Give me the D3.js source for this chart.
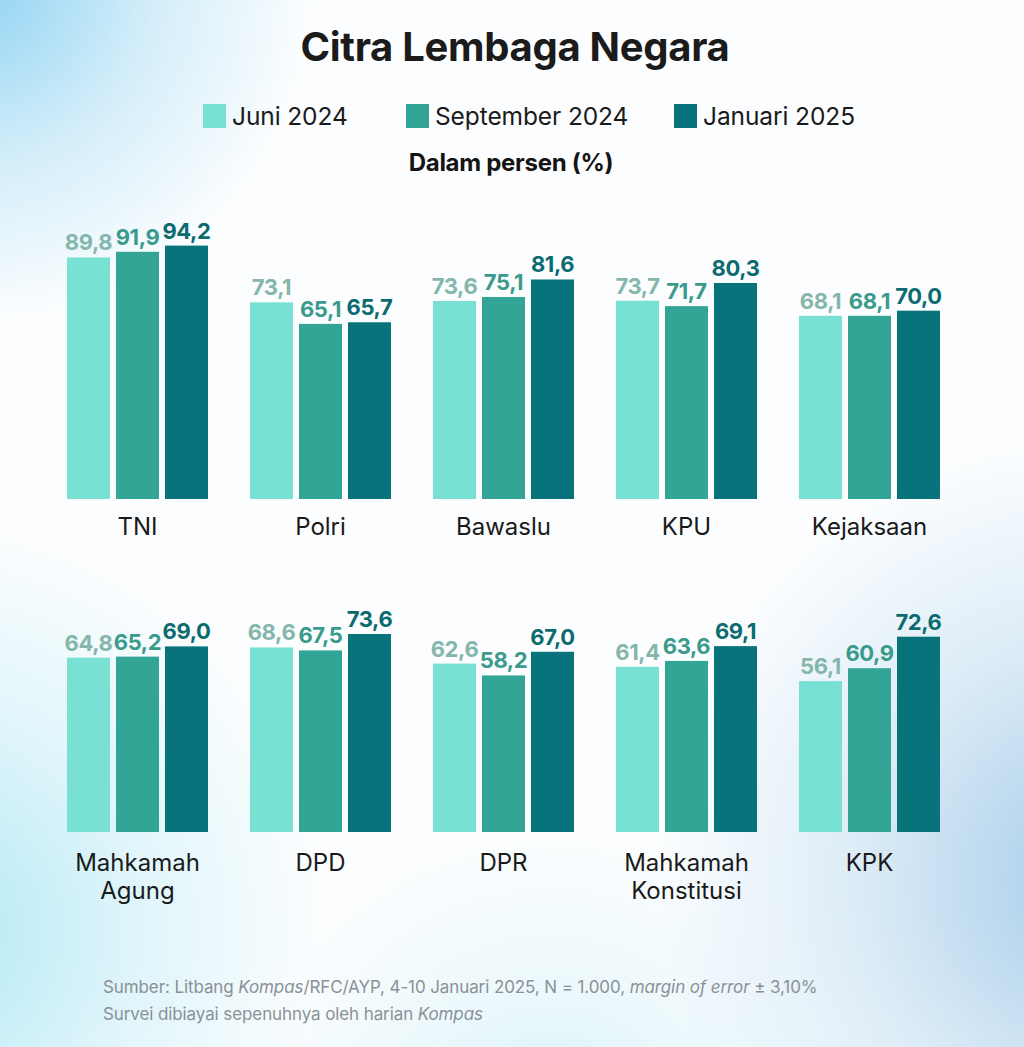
<!DOCTYPE html>
<html>
<head>
<meta charset="utf-8">
<script src="https://cdn.jsdelivr.net/npm/d3@7"></script>
<style>
  html, body { margin: 0; padding: 0; background: #ffffff; }
  svg { display: block; }
</style>
</head>
<body>
<svg id="chart" width="1024" height="1047"></svg>
<script>
// ---- data ----
const title = "Citra Lembaga Negara";
const subtitle = "Dalam persen (%)";
const seriesNames = ["Juni 2024", "September 2024", "Januari 2025"];
const categoriesRow1 = ["TNI", "Polri", "Bawaslu", "KPU", "Kejaksaan"];
const categoriesRow2 = ["Mahkamah Agung", "DPD", "DPR", "Mahkamah Konstitusi", "KPK"];
const juni2024 = [89.8, 73.1, 73.6, 73.7, 68.1, 64.8, 68.6, 62.6, 61.4, 56.1];
const september2024 = [91.9, 65.1, 75.1, 71.7, 68.1, 65.2, 67.5, 58.2, 63.6, 60.9];
const januari2025 = [94.2, 65.7, 81.6, 80.3, 70.0, 69.0, 73.6, 67.0, 69.1, 72.6];
const categoryLines = {
  "Mahkamah Agung": ["Mahkamah", "Agung"],
  "Mahkamah Konstitusi": ["Mahkamah", "Konstitusi"]
};
const sourceNote = [
  [["Sumber: Litbang ", false], ["Kompas", true], ["/RFC/AYP, 4-10 Januari 2025, N = 1.000, ", false], ["margin of error", true], [" ± 3,10%", false]],
  [["Survei dibiayai sepenuhnya oleh harian ", false], ["Kompas", true]]
];

// ---- styles ----
const barColors = ["#79e0d4", "#33a596", "#08737a"];
const labelColors = ["#84b6ab", "#3a9a8c", "#0b6b6e"];
const FONT = "Inter, 'Noto Sans', sans-serif";

const svg = d3.select("#chart");
const W = 1024, H = 1047;

// ---- background ----
const defs = svg.append("defs");
function radial(id, cx, cy, r, color, op) {
  const g = defs.append("radialGradient").attr("id", id)
    .attr("gradientUnits", "userSpaceOnUse")
    .attr("cx", cx).attr("cy", cy).attr("r", r);
  g.append("stop").attr("offset", 0).attr("stop-color", color).attr("stop-opacity", op);
  g.append("stop").attr("offset", 0.55).attr("stop-color", color).attr("stop-opacity", op * 0.35);
  g.append("stop").attr("offset", 1).attr("stop-color", color).attr("stop-opacity", 0);
}
radial("bgTL", -30, -20, 340, "#8dd2f2", 1);
radial("bgBL", -80, 930, 400, "#a9e6f4", 0.95);
radial("bgBR", 1100, 880, 440, "#a3cbe9", 1);
radial("bgBM", 550, 1160, 320, "#c5ecf6", 0.75);
svg.append("rect").attr("width", W).attr("height", H).attr("fill", "#fbfdfe");
["bgTL", "bgBL", "bgBR", "bgBM"].forEach(id =>
  svg.append("rect").attr("width", W).attr("height", H).attr("fill", `url(#${id})`));

// ---- title & subtitle ----
svg.append("text").attr("x", 515).attr("y", 61)
  .attr("text-anchor", "middle").attr("font-family", FONT)
  .attr("font-weight", 700).attr("font-size", 40).attr("letter-spacing", -0.3)
  .attr("fill", "#1b1b1b").text(title);

svg.append("text").attr("x", 511).attr("y", 171)
  .attr("text-anchor", "middle").attr("font-family", FONT)
  .attr("font-weight", 700).attr("font-size", 24).attr("letter-spacing", -0.3)
  .attr("fill", "#141414").text(subtitle);

// ---- legend ----
const legendX = [203, 406, 674];
const legend = svg.append("g");
seriesNames.forEach((name, i) => {
  const g = legend.append("g").attr("transform", `translate(${legendX[i]},104)`);
  g.append("rect").attr("width", 23).attr("height", 24).attr("fill", barColors[i]);
  g.append("text").attr("x", 29).attr("y", 20.5)
    .attr("font-family", FONT).attr("font-size", 24.5).attr("letter-spacing", -0.1)
    .attr("fill", "#1a1a1a").text(name);
});

// ---- bar rows ----
const rows = [
  { cats: categoriesRow1, offset: 0, base: 499, labelY: 535 },
  { cats: categoriesRow2, offset: 5, base: 832, labelY: 871 }
];

rows.forEach(row => {
  const x0 = d3.scaleBand().domain(row.cats).range([67, 940]).paddingInner(42 / 183).paddingOuter(0);
  const x1 = d3.scaleBand().domain(seriesNames).range([0, x0.bandwidth()]).paddingInner(6 / 49);
  const y = d3.scaleLinear().domain([0, 100]).range([row.base, row.base - 269]);

  const data = row.cats.map((c, i) => ({
    cat: c,
    vals: [juni2024[row.offset + i], september2024[row.offset + i], januari2025[row.offset + i]]
  }));

  const groups = svg.append("g").selectAll("g").data(data).join("g")
    .attr("transform", d => `translate(${x0(d.cat)},0)`);

  groups.selectAll("rect").data(d => d.vals.map((v, j) => ({ v, s: seriesNames[j], j })))
    .join("rect")
    .attr("x", d => x1(d.s)).attr("width", x1.bandwidth())
    .attr("y", d => y(d.v)).attr("height", d => y(0) - y(d.v))
    .attr("fill", d => barColors[d.j]);

  groups.selectAll("text.val").data(d => d.vals.map((v, j) => ({ v, s: seriesNames[j], j })))
    .join("text").attr("class", "val")
    .attr("x", d => x1(d.s) + x1.bandwidth() / 2)
    .attr("y", d => y(d.v) - 7)
    .attr("text-anchor", "middle").attr("font-family", FONT)
    .attr("font-weight", 700).attr("font-size", 22).attr("letter-spacing", -0.4)
    .attr("fill", d => labelColors[d.j])
    .text(d => d3.format(".1f")(d.v).replace(".", ","));

  groups.each(function (d) {
    const lines = categoryLines[d.cat] || [d.cat];
    const t = d3.select(this).append("text")
      .attr("x", x0.bandwidth() / 2).attr("y", row.labelY)
      .attr("text-anchor", "middle").attr("font-family", FONT)
      .attr("font-size", 24).attr("letter-spacing", 0).attr("fill", "#1a1a1a");
    lines.forEach((ln, k) => {
      t.append("tspan").attr("x", x0.bandwidth() / 2).attr("dy", k === 0 ? 0 : 28).text(ln);
    });
  });
});

// ---- footer ----
sourceNote.forEach((parts, i) => {
  const t = svg.append("text").attr("x", 103).attr("y", 993 + i * 27)
    .attr("font-family", FONT).attr("font-size", 17).attr("letter-spacing", -0.1)
    .attr("fill", "#8a9196");
  parts.forEach(([s, it]) => t.append("tspan").attr("font-style", it ? "italic" : "normal").text(s));
});
</script>
</body>
</html>
